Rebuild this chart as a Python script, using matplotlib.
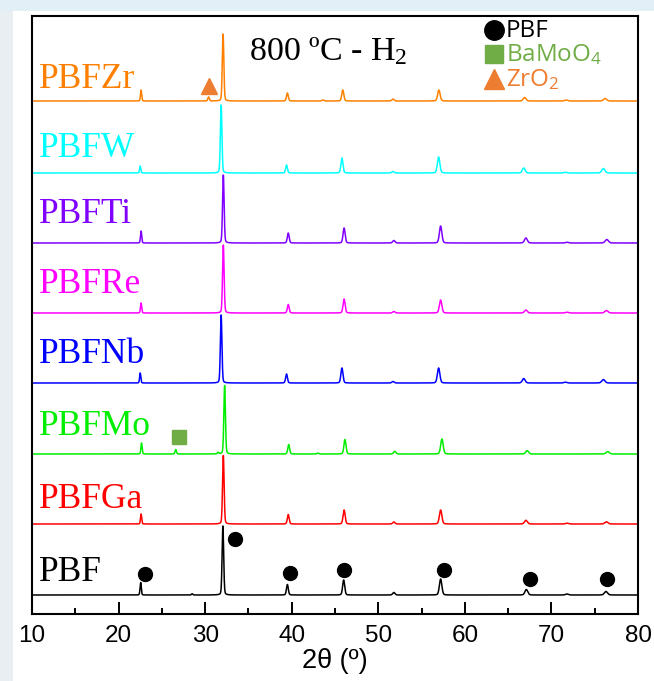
import numpy as np
import matplotlib
matplotlib.use("Agg")
import matplotlib.pyplot as plt
from matplotlib.patches import Rectangle

plt.rcParams['mathtext.default'] = 'regular'

# ---------------- data ----------------
samples = ["PBF", "PBFGa", "PBFMo", "PBFNb", "PBFRe", "PBFTi", "PBFW", "PBFZr"]
colors = ["#000000", "#ff0000", "#00ee00", "#0000ff", "#ff00ff", "#8000ff", "#00ffff", "#ff8000"]
offsets = [0, 71, 141, 212, 282, 352, 422, 494]

pos_PBF = [22.55, 28.5, 32.05, 39.5, 46.0, 51.8, 57.2, 67.1, 71.8, 76.3]
hgt_PBF = [12.5, 1.2, 69, 10.5, 15, 2.5, 16, 5.5, 1.0, 3.5]
pos_Ga = [22.6, 32.1, 39.6, 46.05, 51.8, 57.2, 67.05, 71.8, 76.35]
hgt_Ga = [10, 68.5, 9.5, 14, 2, 14, 3.7, 0.8, 2.2]
pos_Mo = [22.65, 26.6, 31.5, 32.25, 39.65, 43.0, 46.15, 51.9, 57.35, 67.2, 76.5]
hgt_Mo = [11, 4.5, 1.5, 68.5, 9.5, 0.8, 14.5, 2.7, 15, 3.4, 2.4]
pos_Nb = [22.5, 31.85, 39.4, 45.8, 51.7, 56.97, 66.8, 71.6, 76.0]
hgt_Nb = [10, 68, 9, 15, 1.5, 15, 4.5, 0.8, 3.5]
pos_Re = [22.6, 32.1, 39.6, 46.05, 51.8, 57.2, 67.05, 71.8, 76.35]
hgt_Re = [10, 68, 8.5, 14, 1.5, 13, 3, 0.8, 2.5]
pos_Ti = [22.6, 32.1, 39.6, 46.05, 51.8, 57.2, 67.05, 71.8, 76.4]
hgt_Ti = [12, 68, 10, 15, 2.5, 17, 5, 0.8, 3.5]
pos_W = [22.5, 31.85, 39.4, 45.8, 51.7, 56.97, 66.8, 71.6, 76.0]
hgt_W = [7, 68, 8, 15, 1.5, 16, 5, 0.8, 4.5]
pos_Zr = [22.6, 30.4, 32.07, 39.5, 43.6, 45.9, 51.7, 57.0, 66.9, 71.7, 76.2]
hgt_Zr = [11, 4, 67, 8, 1, 11, 2, 11, 3.5, 1, 2.5]

peak_positions = [pos_PBF, pos_Ga, pos_Mo, pos_Nb, pos_Re, pos_Ti, pos_W, pos_Zr]
peak_heights = [hgt_PBF, hgt_Ga, hgt_Mo, hgt_Nb, hgt_Re, hgt_Ti, hgt_W, hgt_Zr]

label_y = [14, 87, 160, 232, 302, 372, 438, 507]

# phase markers
pbf_mark_x = [23.05, 33.4, 39.8, 46.0, 57.6, 67.5, 76.4]
pbf_mark_y = [21, 56, 22, 25, 25, 16, 16]
bamoo4_mark = (27.0, 158)
zro2_mark = (30.45, 509)

xticks = [10, 20, 30, 40, 50, 60, 70, 80]

# ---------------- figure ----------------
W, H = 654, 681
fig = plt.figure(figsize=(W / 100, H / 100), dpi=100, facecolor="white")
fig.add_artist(Rectangle((0, 1 - 11 / H), 1, 11 / H, transform=fig.transFigure,
                         facecolor="#e2eff6", edgecolor="none", zorder=-5))
fig.add_artist(Rectangle((0, 0), 13 / W, 1, transform=fig.transFigure,
                         facecolor="#e8eef2", edgecolor="none", zorder=-6))

ax = fig.add_axes([32 / W, (H - 614) / H, 606 / W, 598 / H])
ax.set_xlim(10, 80)
ax.set_ylim(-19, 579)

x = np.arange(10, 80.001, 0.01)


def profile(positions, heights):
    y = np.zeros_like(x)
    for p, h in zip(positions, heights):
        fw = 0.15 + 0.005 * (p - 20)
        s = fw / 2.3548
        g = np.exp(-0.5 * ((x - p) / s) ** 2)
        l = 1.0 / (1 + ((x - p) / (fw / 2)) ** 2)
        y += h * (0.8 * g + 0.2 * l)
    return y


for name, col, off, pp, hh, ly in zip(samples, colors, offsets, peak_positions, peak_heights, label_y):
    ax.plot(x, profile(pp, hh) + off, color=col, lw=1.1)
    ax.text(10.8, ly, name, color=col, fontsize=25.5, family="Liberation Serif",
            va="baseline", ha="left")

ax.plot(pbf_mark_x, pbf_mark_y, ls="none", marker="o", ms=10, color="black")
ax.plot([bamoo4_mark[0]], [bamoo4_mark[1]], ls="none", marker="s", ms=10, color="#70ad47")
ax.plot([zro2_mark[0]], [zro2_mark[1]], ls="none", marker="^", ms=11, color="#ed7d31")

ax.text(35.1, 535, "800 ºC - H$_2$", fontsize=24.5, family="Liberation Serif",
        va="baseline", ha="left")

# legend drawn manually
def fx(px):
    return (px - 32) / 606


def fy(py):
    return (614 - py) / 598


leg = [("o", "black", "PBF", 30, 37), ("s", "#70ad47", "BaMoO$_4$", 54, 61), ("^", "#ed7d31", "ZrO$_2$", 79, 86)]
for m, c, t, cy, by in leg:
    ax.plot([fx(494)], [fy(cy)], marker=m, ms=14 if m != "s" else 13, color=c, ls="none",
            transform=ax.transAxes, clip_on=False)
    ax.text(fx(506), fy(by), t, color=c, fontsize=17.5, family="Open Sans",
            va="baseline", ha="left", transform=ax.transAxes)

ax.set_xticks(xticks)
ax.set_xticks(np.arange(15, 80, 10), minor=True)
ax.set_yticks([])
ax.tick_params(axis="x", which="major", direction="in", length=8.5, width=1.4,
               labelsize=17.5, pad=8)
ax.tick_params(axis="x", which="minor", direction="in", length=4.3, width=1.4)
for lab in ax.get_xticklabels():
    lab.set_family("Liberation Sans")
for sp in ax.spines.values():
    sp.set_linewidth(1.5)
ax.set_xlabel("2θ (º)", fontsize=19.5, family="Liberation Sans", labelpad=1)

fig.savefig("out.png", dpi=100, facecolor=fig.get_facecolor())
